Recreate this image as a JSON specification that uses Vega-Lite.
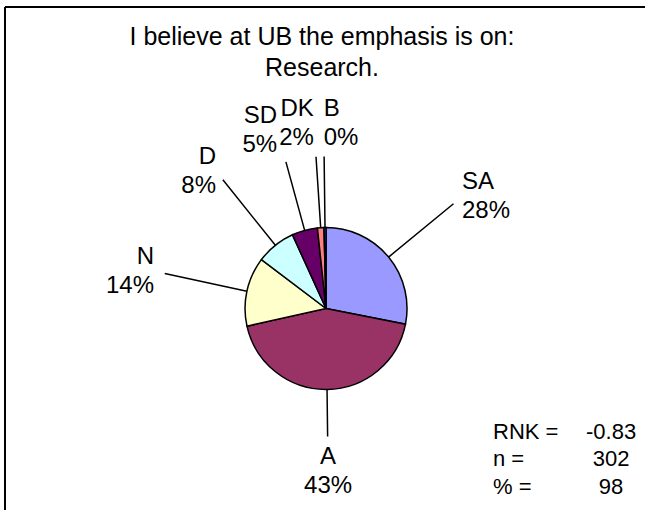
{
  "$schema": "https://vega.github.io/schema/vega-lite/v6.json",
  "width": 640,
  "height": 503,
  "autosize": "none",
  "padding": {"left": 5, "top": 7, "right": 0, "bottom": 0},
  "background": "white",
  "config": {"view": {"stroke": null}, "font": "Liberation Sans"},
  "title": {
    "text": ["I believe at UB the emphasis is on:", "Research."],
    "fontSize": 25,
    "fontWeight": "normal",
    "color": "black",
    "anchor": "middle",
    "lineHeight": 31,
    "baseline": "bottom",
    "offset": -99,
    "dx": -3
  },
  "layer": [
    {
      "data": {"values": [
        {"ord": 1, "cat": "SA", "value": 28.1, "pct": "28%"},
        {"ord": 2, "cat": "A", "value": 43.4, "pct": "43%"},
        {"ord": 3, "cat": "N", "value": 13.8, "pct": "14%"},
        {"ord": 4, "cat": "D", "value": 7.9, "pct": "8%"},
        {"ord": 5, "cat": "SD", "value": 5.1, "pct": "5%"},
        {"ord": 6, "cat": "DK", "value": 1.3, "pct": "2%"},
        {"ord": 7, "cat": "B", "value": 0.4, "pct": "0%"}
      ]},
      "encoding": {
        "x": {"datum": 0.5016, "type": "quantitative",
              "scale": {"domain": [0, 1], "nice": false, "zero": false},
              "axis": {"orient": "top", "title": null, "ticks": false, "labels": false, "grid": false, "domainColor": "black", "domainWidth": 2, "translate": 0}},
        "y": {"datum": -3.456, "type": "quantitative",
              "scale": {"domain": [-14.36, 3.832], "nice": false, "zero": false, "reverse": true},
              "axis": {"orient": "left", "title": null, "ticks": false, "labels": false, "grid": false, "domainColor": "black", "domainWidth": 2, "translate": 0}},
        "theta": {"field": "value", "type": "quantitative", "stack": true},
        "order": {"field": "ord", "type": "quantitative"}
      },
      "layer": [
        {
          "mark": {"type": "arc", "innerRadius": 81, "padAngle": 3.2, "fillOpacity": 0, "stroke": "black", "strokeWidth": 1.5,
                   "outerRadius": {"expr": "cos(PI*(datum.value_start+datum.value_end)/100) < -0.9 ? 128 : (cos(PI*(datum.value_start+datum.value_end)/100) > 0.9 ? 152 : 165)"}}
        },
        {
          "mark": {"type": "arc", "outerRadius": 81, "stroke": "black", "strokeWidth": 1.5},
          "encoding": {
            "color": {"field": "cat", "type": "nominal", "legend": null,
              "scale": {"domain": ["SA", "A", "N", "D", "SD", "DK", "B"],
                        "range": ["#9999FF", "#993366", "#FFFFCC", "#CCFFFF", "#660066", "#FF8080", "#0066CC"]}}
          }
        },
        {
          "mark": {"type": "text", "dy": -14.5, "fontSize": 24, "baseline": "middle", "color": "black",
                   "radius": {"expr": "cos(PI*(datum.value_start+datum.value_end)/100) < -0.9 ? 163 : (cos(PI*(datum.value_start+datum.value_end)/100) > 0.9 ? 185 : 176)"},
                   "align": {"expr": "cos(PI*(datum.value_start+datum.value_end)/100) < -0.9 ? 'center' : (sin(PI*(datum.value_start+datum.value_end)/100) > -0.03 ? 'left' : 'right')"}},
          "encoding": {"text": {"field": "cat"}}
        },
        {
          "mark": {"type": "text", "dy": 14.5, "fontSize": 24, "baseline": "middle", "color": "black",
                   "radius": {"expr": "cos(PI*(datum.value_start+datum.value_end)/100) < -0.9 ? 163 : (cos(PI*(datum.value_start+datum.value_end)/100) > 0.9 ? 185 : 176)"},
                   "align": {"expr": "cos(PI*(datum.value_start+datum.value_end)/100) < -0.9 ? 'center' : (sin(PI*(datum.value_start+datum.value_end)/100) > -0.03 ? 'left' : 'right')"}},
          "encoding": {"text": {"field": "pct"}}
        }
      ]
    },
    {
      "data": {"values": [
        {"ord": 1, "stat": "RNK =", "val": "-0.83"},
        {"ord": 2, "stat": "n =", "val": "302"},
        {"ord": 3, "stat": "% =", "val": "98"}
      ]},
      "encoding": {
        "y": {"field": "ord", "type": "quantitative"}
      },
      "layer": [
        {
          "mark": {"type": "text", "align": "left", "baseline": "middle", "fontSize": 22, "color": "black"},
          "encoding": {"x": {"datum": 0.7625, "type": "quantitative"}, "text": {"field": "stat"}}
        },
        {
          "mark": {"type": "text", "align": "center", "baseline": "middle", "fontSize": 22, "color": "black"},
          "encoding": {"x": {"datum": 0.947, "type": "quantitative"}, "text": {"field": "val"}}
        }
      ]
    }
  ]
}
